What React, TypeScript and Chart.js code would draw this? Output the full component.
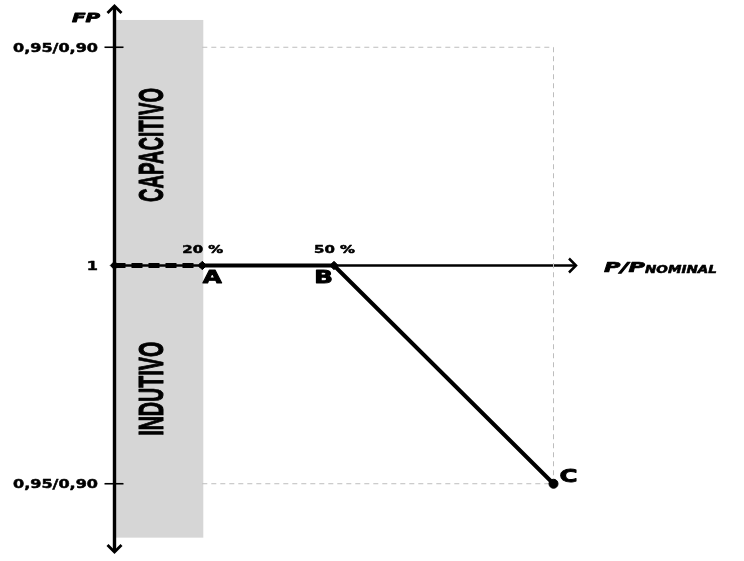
import React, { useEffect, useRef } from "react";
import { Chart, registerables } from "chart.js";
Chart.register(...registerables);

// P/P_nominal in %, and FP level (0 = FP 1, +1 = 0,95/0,90 capacitive, -1 = 0,95/0,90 inductive)
const loadPercent = [0, 20, 50, 100];
const fpLevel = [0, 0, 0, -1];
const pointNames = ["", "A", "B", "C"];
const percentLabels = ["", "20 %", "50 %", ""];
const fpTickValues = [1, 0, -1];
const fpTickLabels = ["0,95/0,90", "1", "0,95/0,90"];
const regionNames = ["CAPACITIVO", "INDUTIVO"];
const axisTitles = ["FP", "P/P", "NOMINAL"];
const bandRange = [0, 20];
const guideLevels = [1, -1];
const guideRange = [20, 100];

const X_MIN = -26.08;
const X_MAX = 143.39;
const Y_MIN = -1.354;
const Y_MAX = 1.2165;

const SANS = "'DejaVu Sans', Verdana, sans-serif";
const NARROW = "'Liberation Sans Narrow', 'Liberation Sans', Arial, sans-serif";

function measure(ctx: CanvasRenderingContext2D, text: string, font: string) {
  ctx.save();
  ctx.font = font;
  const w = ctx.measureText(text).width;
  ctx.restore();
  return w;
}

function drawText(
  ctx: CanvasRenderingContext2D,
  text: string,
  font: string,
  x: number,
  y: number,
  align: CanvasTextAlign,
  sx: number,
  sy = 1,
  rot = 0,
  stroke = 0.5
) {
  ctx.save();
  ctx.translate(x, y);
  if (rot) ctx.rotate(rot);
  ctx.scale(sx, sy);
  ctx.font = font;
  ctx.textAlign = align;
  ctx.textBaseline = "alphabetic";
  ctx.fillStyle = "#000";
  ctx.fillText(text, 0, 0);
  if (stroke > 0) {
    ctx.strokeStyle = "#000";
    ctx.lineWidth = stroke;
    ctx.lineJoin = "round";
    ctx.strokeText(text, 0, 0);
  }
  ctx.restore();
}

const schemePlugin = {
  id: "scheme",
  beforeDatasetsDraw(chart: any) {
    const ctx: CanvasRenderingContext2D = chart.ctx;
    const xs = chart.scales.x;
    const ys = chart.scales.y;
    const px = (v: number) => xs.getPixelForValue(v);
    const py = (v: number) => ys.getPixelForValue(v);
    ctx.save();
    // grey band
    ctx.fillStyle = "#d6d6d6";
    const bx0 = px(bandRange[0]);
    const bx1 = px(bandRange[1]);
    const by0 = py(1.125);
    const by1 = py(-1.247);
    ctx.fillRect(bx0 + 0.5, by0, bx1 - bx0 + 0.5, by1 - by0);

    // vertical axis
    const ax = px(0);
    const top = py(1.1936);
    const bottom = py(-1.317);
    ctx.strokeStyle = "#000";
    ctx.lineWidth = 3.4;
    ctx.lineCap = "butt";
    ctx.beginPath();
    ctx.moveTo(ax, top + 1);
    ctx.lineTo(ax, bottom - 1);
    ctx.stroke();
    ctx.lineWidth = 2.8;
    ctx.lineJoin = "miter";
    ctx.beginPath();
    ctx.moveTo(ax - 7, top + 8);
    ctx.lineTo(ax, top + 1);
    ctx.lineTo(ax + 7, top + 8);
    ctx.stroke();
    ctx.beginPath();
    ctx.moveTo(ax - 7, bottom - 8);
    ctx.lineTo(ax, bottom - 1);
    ctx.lineTo(ax + 7, bottom - 8);
    ctx.stroke();

    // horizontal axis
    const ay = py(0);
    const right = px(105.35);
    ctx.lineWidth = 2.5;
    ctx.beginPath();
    ctx.moveTo(ax, ay);
    ctx.lineTo(right - 1, ay);
    ctx.stroke();
    ctx.beginPath();
    ctx.moveTo(right - 8, ay - 7);
    ctx.lineTo(right - 1, ay);
    ctx.lineTo(right - 8, ay + 7);
    ctx.stroke();

    // ticks
    ctx.lineWidth = 1.6;
    fpTickValues.forEach((v) => {
      if (v === 0) return;
      const y = py(v);
      ctx.beginPath();
      ctx.moveTo(ax - 10, y);
      ctx.lineTo(ax + 9, y);
      ctx.stroke();
    });
    ctx.restore();
  },
  afterDatasetsDraw(chart: any) {
    const ctx: CanvasRenderingContext2D = chart.ctx;
    const xs = chart.scales.x;
    const ys = chart.scales.y;
    const px = (v: number) => xs.getPixelForValue(v);
    const py = (v: number) => ys.getPixelForValue(v);
    const ax = px(0);

    // FP tick labels
    const tickFont = `bold 12.3px ${SANS}`;
    const tickSx = 85 / measure(ctx, fpTickLabels[0], tickFont);
    fpTickLabels.forEach((t, i) => {
      drawText(ctx, t, tickFont, ax - 16.5, py(fpTickValues[i]) + 4.5, "right", tickSx);
    });

    // percentage labels above points
    const pctFont = `bold 11px ${SANS}`;
    const pctSx = 41 / measure(ctx, "20 %", pctFont);
    percentLabels.forEach((t, i) => {
      if (!t) return;
      drawText(ctx, t, pctFont, px(loadPercent[i]) + 0.5, py(fpLevel[i]) - 12.5, "center", pctSx);
    });

    // point names
    const nameFont = `bold 17.8px ${SANS}`;
    const nameSx = 19 / measure(ctx, "A", nameFont);
    pointNames.forEach((t, i) => {
      if (!t) return;
      const x = px(loadPercent[i]);
      const y = py(fpLevel[i]);
      if (t === "A") drawText(ctx, t, nameFont, x + 0.5, y + 17.5, "left", nameSx, 1, 0, 0.9);
      else if (t === "B") drawText(ctx, t, nameFont, x - 1, y + 17.5, "right", nameSx, 1, 0, 0.9);
      else drawText(ctx, t, nameFont, x + 6, y - 2, "left", nameSx, 1, 0, 0.9);
    });

    // axis titles
    const fpFont = `italic bold 12.3px ${SANS}`;
    drawText(ctx, axisTitles[0], fpFont, ax - 14.5, py(1.1936) + 17, "right", 28 / measure(ctx, axisTitles[0], fpFont), 1, 0, 0.8);
    const ppFont = `italic bold 13.7px ${SANS}`;
    const rx = px(105.35);
    const ay = py(0);
    drawText(ctx, axisTitles[1], ppFont, rx + 27, ay + 6.5, "left", 41 / measure(ctx, axisTitles[1], ppFont), 1, 0, 0.7);
    const nomFont = `italic bold 11px ${SANS}`;
    drawText(ctx, axisTitles[2], nomFont, rx + 68, ay + 7.5, "left", 72 / measure(ctx, axisTitles[2], nomFont), 1, 0, 0.6);

    // region names (rotated)
    const regFont = `bold 26px ${NARROW}`;
    const cross = 25 / (0.716 * 26);
    const bandMid = px(bandRange[0]) + 48.5;
    drawText(ctx, regionNames[0], regFont, bandMid, py(0.552), "center", 114 / measure(ctx, regionNames[0], regFont), cross, -Math.PI / 2, 0.8);
    drawText(ctx, regionNames[1], regFont, bandMid, py(-0.565), "center", 94 / measure(ctx, regionNames[1], regFont), cross, -Math.PI / 2, 0.8);
  },
};

export default function App() {
  const ref = useRef<HTMLCanvasElement | null>(null);
  useEffect(() => {
    document.body.style.margin = "0";
    const pts = loadPercent.map((x, i) => ({ x, y: fpLevel[i] }));
    const guideColor = "#bdbdbd";
    const chart = new Chart(ref.current as HTMLCanvasElement, {
      type: "scatter",
      data: {
        datasets: [
          {
            label: "pontos",
            data: pts.slice(0, 3),
            showLine: false,
            pointStyle: "rectRot",
            pointRadius: 4.2,
            pointBackgroundColor: "#000",
            pointBorderColor: "#000",
            order: 0,
          },
          {
            label: "C",
            data: pts.slice(3),
            showLine: false,
            pointStyle: "circle",
            pointRadius: 4.5,
            pointBackgroundColor: "#000",
            pointBorderColor: "#000",
            order: 0,
          },
          {
            label: "abaixo 20%",
            data: pts.slice(0, 2),
            showLine: true,
            borderColor: "#000",
            borderWidth: 4.8,
            borderDash: [11, 6],
            pointRadius: 0,
            order: 1,
          },
          {
            label: "curva",
            data: pts.slice(1),
            showLine: true,
            borderColor: "#000",
            borderWidth: 4,
            pointRadius: 0,
            order: 1,
          },
          ...guideLevels.map((lv) => ({
            label: "guia " + lv,
            data: guideRange.map((x) => ({ x, y: lv })),
            showLine: true,
            borderColor: guideColor,
            borderWidth: 1,
            borderDash: [5, 4],
            pointRadius: 0,
            order: 2,
          })),
          {
            label: "guia vertical",
            data: guideLevels.map((lv) => ({ x: guideRange[1], y: lv })),
            showLine: true,
            borderColor: guideColor,
            borderWidth: 1,
            borderDash: [5, 4],
            pointRadius: 0,
            order: 2,
          },
        ],
      },
      options: {
        animation: false,
        responsive: true,
        maintainAspectRatio: false,
        layout: { padding: 0, autoPadding: false },
        plugins: { legend: { display: false }, tooltip: { enabled: false }, title: { display: false } },
        scales: {
          x: { type: "linear", min: X_MIN, max: X_MAX, display: false },
          y: { type: "linear", min: Y_MIN, max: Y_MAX, display: false },
        },
        events: [],
      },
      plugins: [schemePlugin],
    });
    return () => chart.destroy();
  }, []);
  return (
    <div style={{ position: "fixed", left: 0, top: 0, width: 744, height: 561, background: "#fff" }}>
      <canvas ref={ref} />
    </div>
  );
}
